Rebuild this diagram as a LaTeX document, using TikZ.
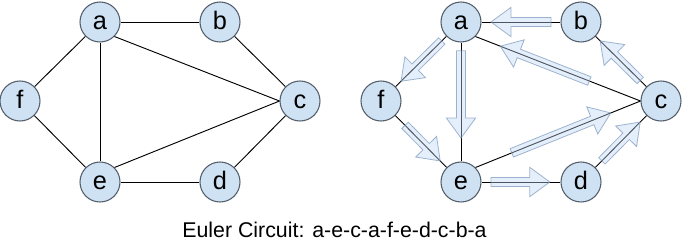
\documentclass[tikz,border=0pt]{standalone}
\usepackage{fontspec}
\setmainfont{Liberation Sans}
\usepackage{tikz}
\usetikzlibrary{calc}
\definecolor{vertexblue}{RGB}{207,226,243}
\definecolor{vertexrim}{RGB}{85,95,108}
\definecolor{walkfill}{RGB}{190,215,245}
\definecolor{walkrim}{RGB}{120,150,185}

%% fat see-through arrow laid on the edge #1--#2, from fraction #3 to #4
\newcommand{\walkstep}[4]{%
  \coordinate (wt) at ($(#1)!#3!(#2)$);
  \coordinate (wh) at ($(#1)!#4!(#2)$);
  \coordinate (wk) at ($(wh)!15pt!(wt)$);
  \filldraw[walk]
    ($(wt)!3.4pt!90:(wh)$) -- ($(wk)!3.4pt!-90:(wt)$) -- ($(wk)!11pt!-90:(wt)$)
    -- (wh) -- ($(wk)!11pt!90:(wt)$) -- ($(wk)!3.4pt!90:(wt)$)
    -- ($(wt)!3.4pt!-90:(wh)$) -- cycle;
}

\begin{document}
\begin{tikzpicture}[
      x=0.75pt, y=-0.75pt,
      vertex/.style={circle, draw=vertexrim, fill=vertexblue, line width=0.8pt,
                     minimum size=30pt, inner sep=0pt,
                     text height=12.5pt, text depth=1.3pt,
                     font=\fontsize{19}{22}\selectfont},
      edge/.style={draw=black, line width=0.7pt},
      walk/.style={fill=walkfill, fill opacity=0.4, draw=walkrim, draw opacity=0.7,
                   line width=0.6pt, line join=miter}
    ]
      \useasboundingbox (0,0) rectangle (682,244);
      %% plain graph
      \node[vertex] (a) at (100,22)  {a};
      \node[vertex] (b) at (220,22)  {b};
      \node[vertex] (c) at (300,101) {c};
      \node[vertex] (d) at (220,182) {d};
      \node[vertex] (e) at (100,182) {e};
      \node[vertex] (f) at (20,101)  {f};
      \draw[edge] (a) -- (b);
      \draw[edge] (b) -- (c);
      \draw[edge] (c) -- (d);
      \draw[edge] (d) -- (e);
      \draw[edge] (e) -- (f);
      \draw[edge] (f) -- (a);
      \draw[edge] (a) -- (e);
      \draw[edge] (a.-45) -- (c.west);
      \draw[edge] (e.45) -- (c.west);
      %% same graph with the circuit marked on it
      \node[vertex] (a2) at (461,22)  {a};
      \node[vertex] (b2) at (581,22)  {b};
      \node[vertex] (c2) at (661,101) {c};
      \node[vertex] (d2) at (581,182) {d};
      \node[vertex] (e2) at (461,182) {e};
      \node[vertex] (f2) at (381,101) {f};
      \draw[edge] (a2) -- (b2);
      \draw[edge] (b2) -- (c2);
      \draw[edge] (c2) -- (d2);
      \draw[edge] (d2) -- (e2);
      \draw[edge] (e2) -- (f2);
      \draw[edge] (f2) -- (a2);
      \draw[edge] (a2) -- (e2);
      \draw[edge] (a2.-45) -- (c2.west);
      \draw[edge] (e2.45) -- (c2.west);
      \walkstep{a2}{e2}{0.18}{0.725}
      \walkstep{e2.45}{c2.west}{0.22}{0.82}
      \walkstep{c2.west}{a2.-45}{0.31}{0.85}
      \walkstep{a2}{f2}{0.24}{0.75}
      \walkstep{f2}{e2}{0.3}{0.74}
      \walkstep{e2}{d2}{0.25}{0.74}
      \walkstep{d2}{c2}{0.26}{0.74}
      \walkstep{c2}{b2}{0.26}{0.76}
      \walkstep{b2}{a2}{0.25}{0.75}
      \node[anchor=base, font=\fontsize{16}{19}\selectfont] (caption) at (334.5,237)
          {Euler Circuit: a-e-c-a-f-e-d-c-b-a};
    \end{tikzpicture}
\end{document}
